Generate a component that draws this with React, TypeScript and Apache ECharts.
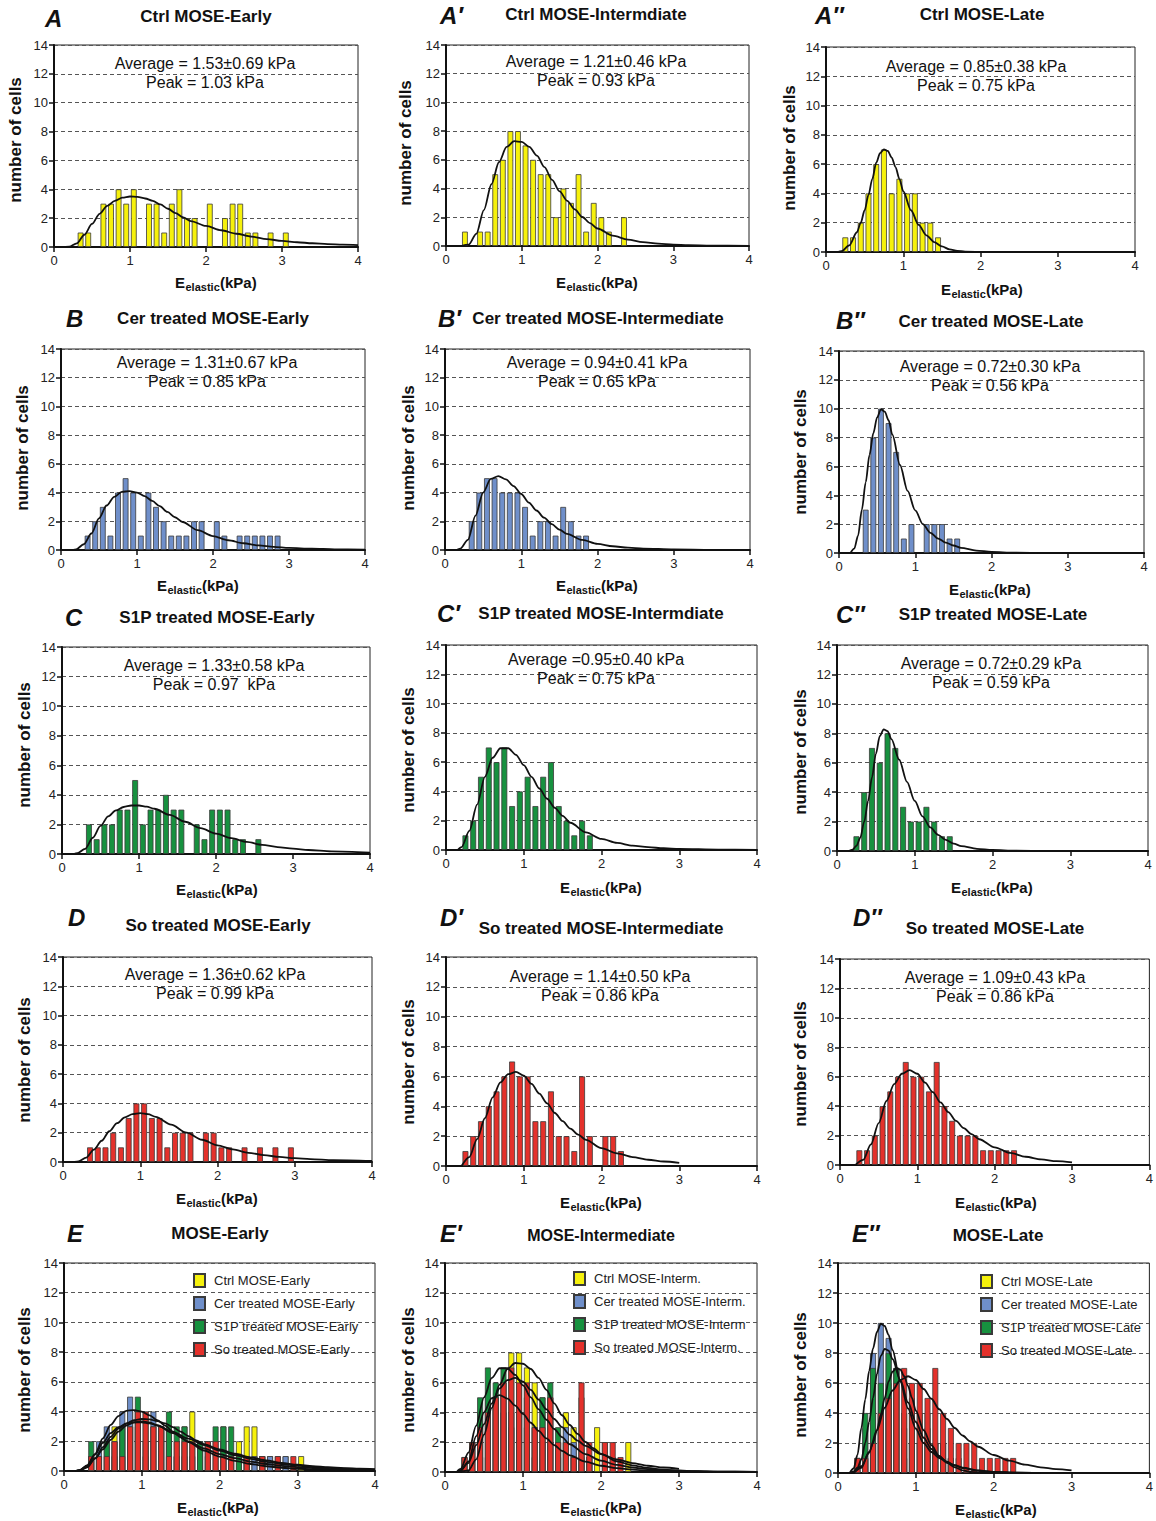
import React, { useEffect, useRef } from "react";
import * as echarts from "echarts";

// Cell counts per 0.1 kPa bin, starting at the 0.0–0.1 kPa bin.
const ctrlEarly = [0,0,0,1,1,0,3,3,4,3,4,0,3,3,1,3,4,2,2,0,3,0,2,3,3,1,1,0,1,0,1];
const ctrlInterm = [0,0,1,0,1,1,5,6,8,8,7,6,5,5,2,4,3,5,1,3,2,1,0,2];
const ctrlLate = [0,0,1,1,2,4,6,7,4,5,4,4,2,2,1];
const cerEarly = [0,0,0,1,2,3,1,4,5,4,1,4,3,2,1,1,1,2,2,0,2,1,0,1,1,1,1,1,1];
const cerInterm = [0,0,0,2,4,5,5,4,4,4,3,1,2,2,1,3,2,1,1];
const cerLate = [0,0,0,3,8,10,9,7,1,2,0,2,2,2,1,1];
const s1pEarly = [0,0,0,2,1,2,2,3,3,5,2,3,3,4,3,3,0,2,1,3,3,3,1,1,0,1];
const s1pInterm = [0,0,1,2,5,7,6,7,3,4,5,3,5,6,3,2,1,2,1];
const s1pLate = [0,0,1,4,7,6,8,7,3,2,2,3,2,1,1];
const soEarly = [0,0,0,1,1,1,2,1,3,4,4,3,3,1,2,2,2,0,2,2,1,1,0,1,0,1,0,1,0,1];
const soInterm = [0,0,1,2,3,4,5,6,7,6,6,3,3,5,2,2,1,6,2,0,2,2,1];
const soLate = [0,0,1,1,2,4,5,6,7,6,6,5,7,4,3,2,2,2,1,1,1,1,1];

// Log-normal fit curves, [E (kPa), number of cells].
const fitCtrlEarly = [[0.15,0],[0.2,0.02],[0.3,0.25],[0.4,0.85],[0.5,1.6],[0.6,2.3],[0.7,2.85],[0.8,3.2],[0.9,3.42],[1.0,3.5],[1.1,3.47],[1.2,3.36],[1.3,3.2],[1.4,2.95],[1.5,2.65],[1.6,2.35],[1.7,2.06],[1.8,1.8],[2.0,1.46],[2.2,1.16],[2.4,0.92],[2.6,0.72],[2.8,0.55],[3.0,0.42],[3.2,0.33],[3.4,0.26],[3.6,0.2],[3.8,0.16],[4.0,0.13]];
const fitCtrlInterm = [[0.2,0],[0.3,0.1],[0.4,0.85],[0.5,2.5],[0.6,4.3],[0.7,5.85],[0.8,6.9],[0.9,7.3],[1.0,7.25],[1.1,6.9],[1.2,6.3],[1.3,5.5],[1.4,4.6],[1.5,3.8],[1.6,3.15],[1.7,2.55],[1.8,2.02],[1.9,1.6],[2.0,1.22],[2.2,0.72],[2.4,0.45],[2.6,0.27],[2.8,0.16],[3.0,0.1],[3.2,0.06],[3.5,0.03],[4.0,0.01]];
const fitCtrlLate = [[0.15,0],[0.2,0.05],[0.3,0.45],[0.4,1.35],[0.45,2.0],[0.5,2.85],[0.55,3.9],[0.6,5.0],[0.65,6.1],[0.7,6.75],[0.75,7.0],[0.8,6.9],[0.85,6.45],[0.9,5.8],[0.95,5.0],[1.0,4.15],[1.1,2.85],[1.2,1.85],[1.3,1.14],[1.4,0.68],[1.5,0.38],[1.6,0.18],[1.7,0.08],[1.8,0.03],[2.0,0]];
const fitCerEarly = [[0.15,0],[0.2,0.05],[0.3,0.4],[0.4,1.15],[0.5,2.2],[0.6,3.1],[0.7,3.7],[0.8,4.05],[0.9,4.1],[1.0,4.0],[1.1,3.75],[1.2,3.42],[1.3,3.05],[1.4,2.65],[1.5,2.28],[1.6,1.95],[1.8,1.38],[2.0,0.97],[2.2,0.68],[2.4,0.47],[2.6,0.32],[2.8,0.22],[3.0,0.15],[3.3,0.09],[3.6,0.05],[4.0,0.03]];
const fitCerInterm = [[0.15,0],[0.2,0.1],[0.3,0.7],[0.4,2.4],[0.5,4.0],[0.6,4.95],[0.7,5.15],[0.8,4.92],[0.9,4.45],[1.0,3.9],[1.1,3.3],[1.2,2.75],[1.3,2.25],[1.4,1.8],[1.5,1.42],[1.6,1.12],[1.8,0.7],[2.0,0.42],[2.2,0.26],[2.4,0.16],[2.6,0.1],[3.0,0.04],[3.5,0.01],[4.0,0]];
const fitCerLate = [[0.15,0],[0.2,0.3],[0.25,1.2],[0.3,3.0],[0.35,4.9],[0.4,6.8],[0.45,8.3],[0.5,9.4],[0.55,9.95],[0.6,9.8],[0.65,9.2],[0.7,8.2],[0.8,6.1],[0.9,4.3],[1.0,2.95],[1.1,2.0],[1.2,1.4],[1.3,1.0],[1.4,0.72],[1.5,0.52],[1.6,0.36],[1.8,0.17],[2.0,0.08],[2.3,0.02],[2.6,0]];
const fitS1pEarly = [[0.15,0],[0.2,0.05],[0.3,0.35],[0.4,1.1],[0.5,1.9],[0.6,2.55],[0.7,2.95],[0.8,3.18],[0.9,3.28],[1.0,3.28],[1.1,3.2],[1.2,3.06],[1.4,2.64],[1.6,2.18],[1.8,1.75],[2.0,1.38],[2.2,1.07],[2.4,0.82],[2.6,0.62],[2.8,0.47],[3.0,0.36],[3.2,0.27],[3.5,0.18],[4.0,0.09]];
const fitS1pInterm = [[0.15,0],[0.2,0.2],[0.3,1.3],[0.4,3.1],[0.5,5.0],[0.6,6.3],[0.7,6.95],[0.8,6.95],[0.9,6.5],[1.0,5.8],[1.1,5.0],[1.2,4.2],[1.3,3.5],[1.4,2.88],[1.5,2.33],[1.6,1.86],[1.8,1.2],[2.0,0.76],[2.2,0.48],[2.4,0.3],[2.6,0.19],[2.8,0.12],[3.0,0.08],[3.5,0.03],[4.0,0.01]];
const fitS1pLate = [[0.15,0],[0.2,0.1],[0.25,0.35],[0.3,0.9],[0.35,2.0],[0.4,3.4],[0.45,5.0],[0.5,6.6],[0.55,7.8],[0.6,8.27],[0.65,8.15],[0.7,7.6],[0.8,6.2],[0.9,4.7],[1.0,3.4],[1.1,2.35],[1.2,1.6],[1.3,1.1],[1.4,0.75],[1.5,0.5],[1.6,0.33],[1.8,0.15],[2.0,0.07],[2.3,0.02],[2.6,0]];
const fitSoEarly = [[0.15,0],[0.2,0.04],[0.3,0.3],[0.4,0.85],[0.5,1.45],[0.6,2.1],[0.7,2.65],[0.8,3.05],[0.9,3.27],[1.0,3.34],[1.1,3.27],[1.2,3.08],[1.4,2.55],[1.6,2.0],[1.8,1.52],[2.0,1.14],[2.2,0.86],[2.4,0.63],[2.6,0.47],[2.8,0.35],[3.0,0.26],[3.2,0.2],[3.5,0.13],[4.0,0.07]];
const fitSoInterm = [[0.2,0],[0.3,0.6],[0.4,1.8],[0.5,3.2],[0.6,4.6],[0.7,5.6],[0.8,6.15],[0.9,6.3],[1.0,6.05],[1.1,5.5],[1.2,4.85],[1.3,4.2],[1.4,3.55],[1.5,3.0],[1.6,2.5],[1.7,2.1],[1.8,1.75],[2.0,1.2],[2.2,0.85],[2.4,0.6],[2.6,0.42],[2.8,0.3],[3.0,0.21]];
const fitSoLate = [[0.2,0],[0.3,0.35],[0.4,1.4],[0.5,2.85],[0.6,4.35],[0.7,5.5],[0.8,6.2],[0.9,6.45],[1.0,6.2],[1.1,5.6],[1.2,4.95],[1.3,4.25],[1.4,3.6],[1.5,3.0],[1.6,2.5],[1.7,2.1],[1.8,1.75],[2.0,1.2],[2.2,0.82],[2.4,0.56],[2.6,0.38],[2.8,0.26],[3.0,0.18]];

const xTicks = [0, 1, 2, 3, 4];
const yTicks = [0, 2, 4, 6, 8, 10, 12, 14];

const FONT = "'Liberation Sans', Arial, Helvetica, sans-serif";
const YELLOW = "#f6f10c";
const BLUE = "#6f8fca";
const GREEN = "#17913f";
const RED = "#e4312b";
const BIN_WIDTH = 0.1;
const BIN_COUNT = 40;

type DataSet = { name?: string; counts: number[]; color: string; curve: number[][] };
type Panel = {
  letter: string; lx: number; ly: number;
  title: string; tx: number; ty: number; titleSize?: number;
  grid: [number, number, number, number];
  avg?: string; peak?: string; sx?: number; sy?: number;
  xl: [number, number]; yl: [number, number];
  sets: DataSet[];
  legend?: [number, number];
};

const panels: Panel[] = [
  { letter: "A", lx: 45, ly: 18, title: "Ctrl MOSE-Early", tx: 206, ty: 16, grid: [54, 45, 304, 202],
    avg: "Average = 1.53±0.69 kPa", peak: "Peak = 1.03 kPa", sx: 205, sy: 63, xl: [216, 282], yl: [15, 140],
    sets: [{ counts: ctrlEarly, color: YELLOW, curve: fitCtrlEarly }] },
  { letter: "A′", lx: 440, ly: 15, title: "Ctrl MOSE-Intermdiate", tx: 596, ty: 14, grid: [446, 45, 303, 201],
    avg: "Average = 1.21±0.46 kPa", peak: "Peak = 0.93 kPa", sx: 596, sy: 61, xl: [597, 282], yl: [405, 143],
    sets: [{ counts: ctrlInterm, color: YELLOW, curve: fitCtrlInterm }] },
  { letter: "A″", lx: 815, ly: 15, title: "Ctrl MOSE-Late", tx: 982, ty: 14, grid: [826, 47, 309, 205],
    avg: "Average = 0.85±0.38 kPa", peak: "Peak = 0.75 kPa", sx: 976, sy: 66, xl: [982, 289], yl: [789, 148],
    sets: [{ counts: ctrlLate, color: YELLOW, curve: fitCtrlLate }] },

  { letter: "B", lx: 66, ly: 318, title: "Cer treated MOSE-Early", tx: 213, ty: 318, grid: [61, 349, 304, 201],
    avg: "Average = 1.31±0.67 kPa", peak: "Peak = 0.85 kPa", sx: 207, sy: 362, xl: [198, 585], yl: [22, 448],
    sets: [{ counts: cerEarly, color: BLUE, curve: fitCerEarly }] },
  { letter: "B′", lx: 438, ly: 318, title: "Cer treated MOSE-Intermediate", tx: 598, ty: 318, grid: [445, 349, 305, 201],
    avg: "Average = 0.94±0.41 kPa", peak: "Peak = 0.65 kPa", sx: 597, sy: 362, xl: [597, 585], yl: [408, 448],
    sets: [{ counts: cerInterm, color: BLUE, curve: fitCerInterm }] },
  { letter: "B″", lx: 836, ly: 320, title: "Cer treated MOSE-Late", tx: 991, ty: 321, grid: [839, 351, 305, 202],
    avg: "Average = 0.72±0.30 kPa", peak: "Peak = 0.56 kPa", sx: 990, sy: 366, xl: [990, 589], yl: [800, 452],
    sets: [{ counts: cerLate, color: BLUE, curve: fitCerLate }] },

  { letter: "C", lx: 65, ly: 617, title: "S1P treated MOSE-Early", tx: 217, ty: 617, grid: [62, 647, 308, 207],
    avg: "Average = 1.33±0.58 kPa", peak: "Peak = 0.97  kPa", sx: 214, sy: 665, xl: [217, 889], yl: [24, 745],
    sets: [{ counts: s1pEarly, color: GREEN, curve: fitS1pEarly }] },
  { letter: "C′", lx: 437, ly: 613, title: "S1P treated MOSE-Intermdiate", tx: 601, ty: 613, grid: [446, 645, 311, 205],
    avg: "Average =0.95±0.40 kPa", peak: "Peak = 0.75 kPa", sx: 596, sy: 659, xl: [601, 887], yl: [408, 750],
    sets: [{ counts: s1pInterm, color: GREEN, curve: fitS1pInterm }] },
  { letter: "C″", lx: 836, ly: 614, title: "S1P treated MOSE-Late", tx: 993, ty: 614, grid: [837, 645, 311, 206],
    avg: "Average = 0.72±0.29 kPa", peak: "Peak = 0.59 kPa", sx: 991, sy: 663, xl: [992, 887], yl: [800, 752],
    sets: [{ counts: s1pLate, color: GREEN, curve: fitS1pLate }] },

  { letter: "D", lx: 68, ly: 917, title: "So treated MOSE-Early", tx: 218, ty: 925, grid: [63, 957, 309, 205],
    avg: "Average = 1.36±0.62 kPa", peak: "Peak = 0.99 kPa", sx: 215, sy: 974, xl: [217, 1198], yl: [24, 1060],
    sets: [{ counts: soEarly, color: RED, curve: fitSoEarly }] },
  { letter: "D′", lx: 440, ly: 917, title: "So treated MOSE-Intermediate", tx: 601, ty: 928, grid: [446, 957, 311, 209],
    avg: "Average = 1.14±0.50 kPa", peak: "Peak = 0.86 kPa", sx: 600, sy: 976, xl: [601, 1202], yl: [408, 1062],
    sets: [{ counts: soInterm, color: RED, curve: fitSoInterm }] },
  { letter: "D″", lx: 853, ly: 917, title: "So treated MOSE-Late", tx: 995, ty: 928, grid: [840, 959, 312, 206],
    avg: "Average = 1.09±0.43 kPa", peak: "Peak = 0.86 kPa", sx: 995, sy: 977, xl: [996, 1202], yl: [800, 1064],
    sets: [{ counts: soLate, color: RED, curve: fitSoLate }] },

  { letter: "E", lx: 67, ly: 1233, title: "MOSE-Early", tx: 220, ty: 1233, grid: [64, 1263, 311, 208],
    xl: [218, 1507], yl: [24, 1370], legend: [188, 1268],
    sets: [
      { name: "Ctrl MOSE-Early", counts: ctrlEarly, color: YELLOW, curve: fitCtrlEarly },
      { name: "Cer treated MOSE-Early", counts: cerEarly, color: BLUE, curve: fitCerEarly },
      { name: "S1P treated MOSE-Early", counts: s1pEarly, color: GREEN, curve: fitS1pEarly },
      { name: "So treated MOSE-Early", counts: soEarly, color: RED, curve: fitSoEarly },
    ] },
  { letter: "E′", lx: 440, ly: 1233, title: "MOSE-Intermediate", tx: 601, ty: 1235, titleSize: 16, grid: [445, 1263, 312, 209],
    xl: [601, 1507], yl: [408, 1370], legend: [568, 1266],
    sets: [
      { name: "Ctrl MOSE-Interm.", counts: ctrlInterm, color: YELLOW, curve: fitCtrlInterm },
      { name: "Cer treated MOSE-Interm.", counts: cerInterm, color: BLUE, curve: fitCerInterm },
      { name: "S1P treated MOSE-Interm", counts: s1pInterm, color: GREEN, curve: fitS1pInterm },
      { name: "So treated MOSE-Interm.", counts: soInterm, color: RED, curve: fitSoInterm },
    ] },
  { letter: "E″", lx: 852, ly: 1233, title: "MOSE-Late", tx: 998, ty: 1235, grid: [838, 1263, 314, 210],
    xl: [996, 1509], yl: [800, 1375], legend: [975, 1269],
    sets: [
      { name: "Ctrl MOSE-Late", counts: ctrlLate, color: YELLOW, curve: fitCtrlLate },
      { name: "Cer treated MOSE-Late", counts: cerLate, color: BLUE, curve: fitCerLate },
      { name: "S1P treated MOSE-Late", counts: s1pLate, color: GREEN, curve: fitS1pLate },
      { name: "So treated MOSE-Late", counts: soLate, color: RED, curve: fitSoLate },
    ] },
];

const binLabels = Array.from({ length: BIN_COUNT }, (_, i) => (i * BIN_WIDTH + BIN_WIDTH / 2).toFixed(2));
const toBins = (counts: number[]) =>
  Array.from({ length: BIN_COUNT }, (_, i) => (counts[i] ? counts[i] : null));

function xLabel(cx: number, cy: number) {
  // "E" with subscript "elastic", followed by "(kPa)"
  const wE = 10.5, wSub = 34.5, wK = 37;
  const start = cx - (wE + wSub + wK) / 2;
  const base = { fill: "#111", textAlign: "left", textVerticalAlign: "middle" };
  return {
    type: "group",
    children: [
      { type: "text", x: start, y: cy, style: { ...base, text: "E", font: `bold 15px ${FONT}` } },
      { type: "text", x: start + wE, y: cy + 5, style: { ...base, text: "elastic", font: `bold 11px ${FONT}` } },
      { type: "text", x: start + wE + wSub, y: cy, style: { ...base, text: "(kPa)", font: `bold 15px ${FONT}` } },
    ],
  };
}

function buildOption() {
  const grid: any[] = [];
  const xAxis: any[] = [];
  const yAxis: any[] = [];
  const series: any[] = [];
  const legend: any[] = [];
  const graphic: any[] = [];

  panels.forEach((p, i) => {
    const [left, top, width, height] = p.grid;
    grid.push({ left, top, width, height, show: true, borderColor: "#222", borderWidth: 1, backgroundColor: "transparent" });

    xAxis.push({ type: "category", gridIndex: i, data: binLabels, show: false, boundaryGap: true, position: "bottom" });
    xAxis.push({
      type: "value", gridIndex: i, position: "bottom",
      min: xTicks[0], max: xTicks[xTicks.length - 1], interval: 1,
      axisLine: { show: true, onZero: false, lineStyle: { color: "#111", width: 2 } },
      axisTick: { show: true, length: 5, lineStyle: { color: "#111", width: 1.5 } },
      axisLabel: { fontSize: 13, color: "#222", margin: 7, fontFamily: FONT },
      splitLine: { show: false },
    });
    yAxis.push({
      type: "value", gridIndex: i, position: "left",
      min: yTicks[0], max: yTicks[yTicks.length - 1], interval: 2,
      axisLine: { show: true, onZero: false, lineStyle: { color: "#111", width: 2 } },
      axisTick: { show: true, length: 5, lineStyle: { color: "#111", width: 1.5 } },
      axisLabel: { fontSize: 13, color: "#222", margin: 6, fontFamily: FONT },
      splitLine: { show: true, lineStyle: { color: "#555", width: 1, type: [4, 3] } },
    });

    p.sets.forEach((s) => {
      series.push({
        type: "bar", name: s.name, xAxisIndex: 2 * i, yAxisIndex: i,
        data: toBins(s.counts), barCategoryGap: "24%", barGap: "-100%",
        itemStyle: { color: s.color, borderColor: "#3a3a3a", borderWidth: 0.8 },
        z: 2, silent: true,
      });
    });
    p.sets.forEach((s) => {
      series.push({
        type: "line", xAxisIndex: 2 * i + 1, yAxisIndex: i, data: s.curve,
        smooth: 0.3, smoothMonotone: "x", symbol: "none",
        lineStyle: { color: "#111", width: 1.8 }, z: 3, silent: true,
      });
    });

    if (p.legend) {
      legend.push({
        data: p.sets.map((s) => s.name), left: p.legend[0], top: p.legend[1], orient: "vertical",
        itemWidth: 11, itemHeight: 13, itemGap: 8, icon: "rect", selectedMode: false,
        textStyle: { fontSize: 13, color: "#222", fontFamily: FONT, padding: [0, 0, 0, 4] },
      });
    }

    graphic.push({ type: "text", x: p.lx, y: p.ly, style: { text: p.letter, font: `italic bold 24px ${FONT}`, fill: "#111", textAlign: "left", textVerticalAlign: "middle" } });
    graphic.push({ type: "text", x: p.tx, y: p.ty, style: { text: p.title, font: `bold ${p.titleSize || 17}px ${FONT}`, fill: "#111", textAlign: "center", textVerticalAlign: "middle" } });
    if (p.avg) {
      graphic.push({ type: "text", x: p.sx, y: p.sy, z: 10, style: { text: p.avg, font: `16px ${FONT}`, fill: "#111", textAlign: "center", textVerticalAlign: "middle" } });
      graphic.push({ type: "text", x: p.sx, y: (p.sy as number) + 19, z: 10, style: { text: p.peak, font: `16px ${FONT}`, fill: "#111", textAlign: "center", textVerticalAlign: "middle" } });
    }
    graphic.push(xLabel(p.xl[0], p.xl[1]));
    graphic.push({ type: "text", x: p.yl[0], y: p.yl[1], rotation: Math.PI / 2, style: { text: "number of cells", font: `bold 17px ${FONT}`, fill: "#111", textAlign: "center", textVerticalAlign: "middle" } });
  });

  return { animation: false, backgroundColor: "#ffffff", grid, xAxis, yAxis, series, legend, graphic };
}

export default function App() {
  const ref = useRef<HTMLDivElement>(null);
  useEffect(() => {
    document.body.style.margin = "0";
    if (!ref.current) return;
    const chart = echarts.init(ref.current, undefined, { renderer: "svg" });
    chart.setOption(buildOption() as any);
    return () => chart.dispose();
  }, []);
  return <div ref={ref} style={{ width: 1156, height: 1521, background: "#fff" }} />;
}
